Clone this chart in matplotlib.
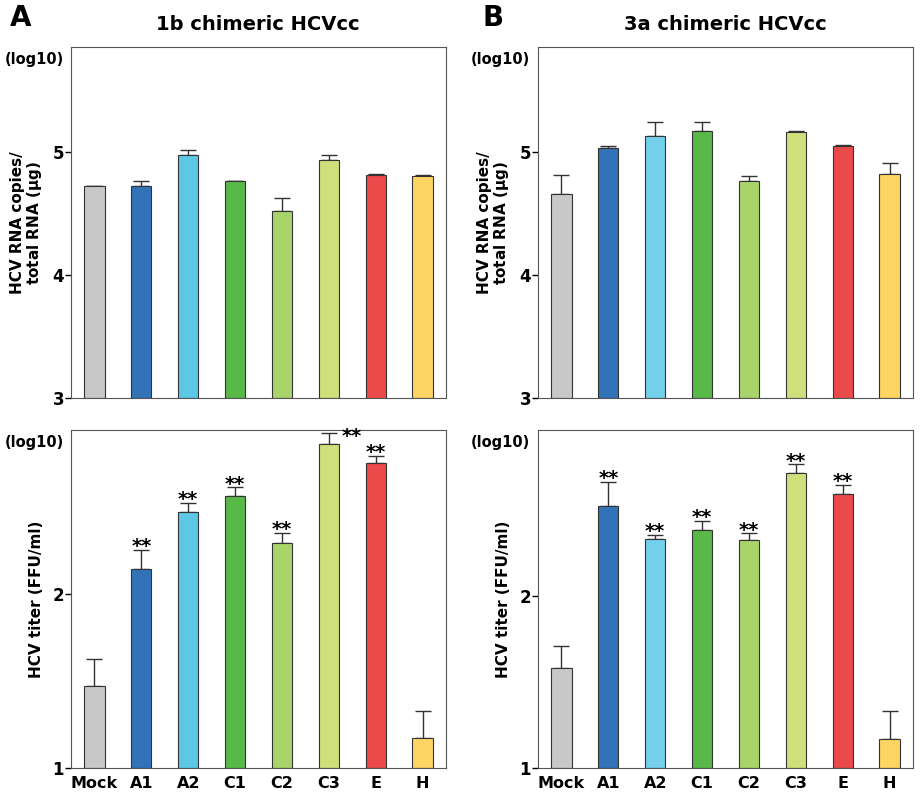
import matplotlib
matplotlib.use("Agg")
import matplotlib.pyplot as plt
import numpy as np

cats = ["Mock", "A1", "A2", "C1", "C2", "C3", "E", "H"]
colors = ["#c8c8c8", "#3272b8", "#5cc8e6", "#58b848", "#a8d46a", "#cfe07a", "#ea4a4a", "#fed462"]
colorsB = ["#c8c8c8", "#3272b8", "#74cfec", "#58b848", "#a8d46a", "#cfe07a", "#ea4a4a", "#fed462"]

rnaA = [4.72, 4.72, 4.97, 4.76, 4.52, 4.93, 4.81, 4.80]
rnaA_err = [0.0, 0.045, 0.04, 0.005, 0.10, 0.045, 0.005, 0.01]
titA = [1.47, 2.14, 2.47, 2.56, 2.29, 2.86, 2.75, 1.17]
titA_err = [0.155, 0.11, 0.05, 0.05, 0.06, 0.06, 0.04, 0.16]

rnaB = [4.66, 5.03, 5.13, 5.17, 4.76, 5.16, 5.05, 4.82]
rnaB_err = [0.15, 0.02, 0.11, 0.07, 0.04, 0.01, 0.005, 0.09]
titB = [1.58, 2.52, 2.33, 2.38, 2.32, 2.71, 2.59, 1.17]
titB_err = [0.13, 0.14, 0.02, 0.05, 0.04, 0.05, 0.05, 0.16]

starsA = [False, True, True, True, True, True, True, False]
starsB = [False, True, True, True, True, True, True, False]

fig = plt.figure(figsize=(9.24, 8), dpi=100)
W, H = 924, 800
def ax_at(x0, y0, x1, y1):
    return fig.add_axes([x0 / W, 1 - y1 / H, (x1 - x0) / W, (y1 - y0) / H])

def draw(ax, vals, errs, cols, ylim, ticks, ylabel, xlabels, stars=None, c3right=False):
    x = np.arange(len(vals))
    ax.bar(x, [v - ylim[0] for v in vals], bottom=ylim[0], width=0.43, color=cols,
           edgecolor="#333333", linewidth=0.8, zorder=2)
    ax.errorbar(x, vals, yerr=[np.zeros(len(errs)), errs], fmt="none", ecolor="#333333",
                elinewidth=1, capsize=6, capthick=1, zorder=1)
    ax.set_xlim(-0.5, len(vals) - 0.5)
    ax.set_ylim(*ylim)
    ax.set_yticks(ticks)
    ax.set_yticklabels([str(t) for t in ticks], fontsize=12, fontweight="bold")
    for s in ax.spines.values():
        s.set_color("#555555")
    ax.tick_params(axis="y", length=4, width=1, pad=1)
    ax.set_ylabel(ylabel, fontsize=11, fontweight="bold", labelpad=6, linespacing=1.0)
    ax.text(-0.02, 0.985, "(log10)", transform=ax.transAxes, ha="right", va="top",
            fontsize=10.5, fontweight="bold")
    if xlabels:
        ax.set_xticks(x)
        ax.set_xticklabels(cats, fontsize=11.5, fontweight="bold")
        ax.tick_params(axis="x", length=0, pad=6)
    else:
        ax.set_xticks([])
    if stars:
        for i, s in enumerate(stars):
            if not s:
                continue
            top = vals[i] + errs[i]
            if c3right and i == 5:
                ax.text(i + 0.5, top - 0.07, "**", ha="center", va="bottom", fontsize=14, fontweight="bold")
            else:
                ax.text(i, top - 0.035, "**", ha="center", va="bottom", fontsize=14, fontweight="bold")

ylab = "HCV RNA copies/\ntotal RNA ($\\mathbf{\\mu}$g)"
ax1 = ax_at(71, 47, 446, 398)
draw(ax1, rnaA, rnaA_err, colors, (3, 5.85), [3, 4, 5], ylab, False)
ax2 = ax_at(71, 430, 446, 768)
draw(ax2, titA, titA_err, colors, (1, 2.94), [1, 2], "HCV titer (FFU/ml)", True, starsA, c3right=True)
ax3 = ax_at(538, 47, 913, 398)
draw(ax3, rnaB, rnaB_err, colorsB, (3, 5.85), [3, 4, 5], ylab, False)
ax4 = ax_at(538, 430, 913, 768)
draw(ax4, titB, titB_err, colorsB, (1, 2.96), [1, 2], "HCV titer (FFU/ml)", True, starsB)

fig.text(258 / W, 1 - 25 / H, "1b chimeric HCVcc", ha="center", va="center", fontsize=14, fontweight="bold")
fig.text(725 / W, 1 - 25 / H, "3a chimeric HCVcc", ha="center", va="center", fontsize=14, fontweight="bold")
fig.text(10 / W, 1 - 18 / H, "A", ha="left", va="center", fontsize=20, fontweight="bold")
fig.text(482 / W, 1 - 18 / H, "B", ha="left", va="center", fontsize=20, fontweight="bold")

fig.savefig("out.png", dpi=100)
